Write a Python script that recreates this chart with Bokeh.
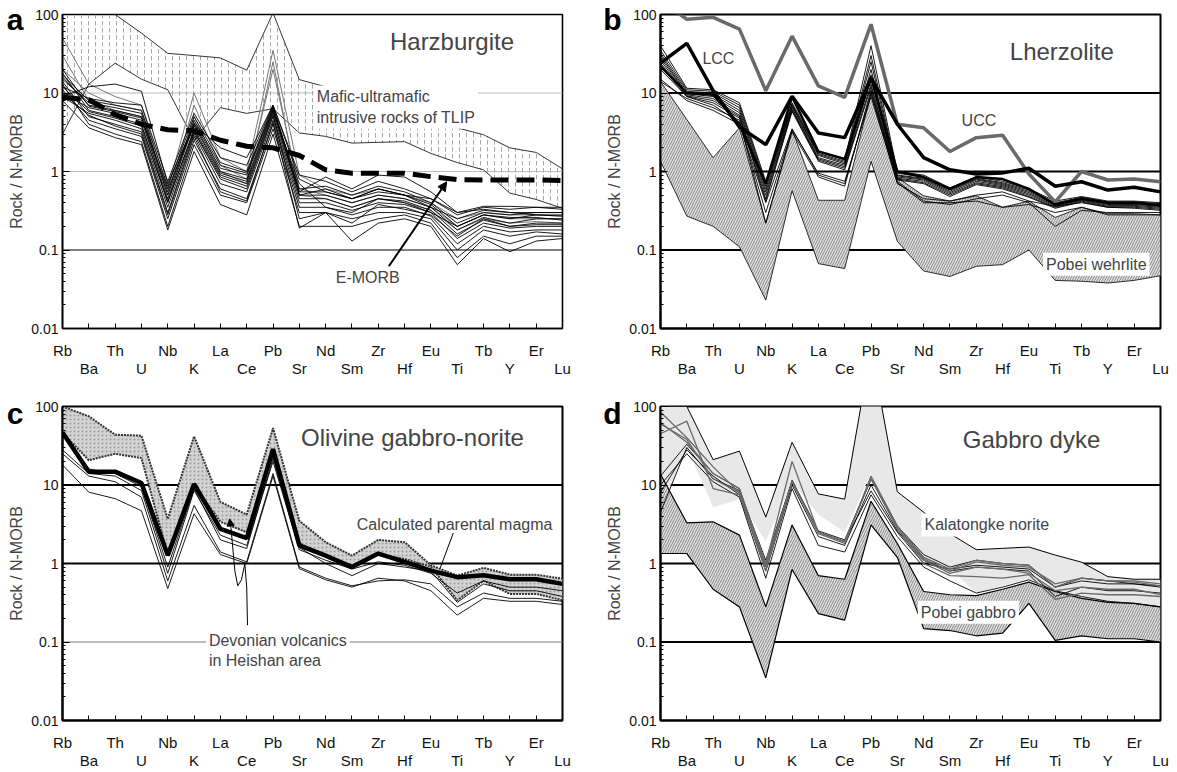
from bokeh.plotting import figure
from bokeh.models import (Range1d, FixedTicker, LinearAxis, LogAxis, Span, Label, Arrow,
                          NormalHead, CustomJSTickFormatter)
from bokeh.layouts import row, column
from bokeh.embed import file_html
from bokeh.resources import INLINE

FONT = "Liberation Sans"
ELEMENTS = ["Rb", "Ba", "Th", "U", "Nb", "K", "La", "Ce", "Pb", "Sr",
            "Nd", "Sm", "Zr", "Hf", "Eu", "Ti", "Tb", "Y", "Er", "Lu"]
X = list(range(len(ELEMENTS)))

# ---------------- panel a: Harzburgite ----------------
TLIP_UP = [100, 100, 100, 58, 32, 30, 28, 19.5, 105, 14.8, 12, 9, 7, 5.5, 4.5, 3.6, 2.94, 2.0, 1.75, 1.08]
TLIP_LO = [3.0, 13, 24, 15, 11, 2.5, 6.5, 5.5, 6.3, 3.1, 2.8, 2.3, 2.35, 2.4, 1.7, 1.3, 1.05, 0.53, 0.44, 0.34]
EMORB = [8.8, 8.2, 5.3, 4.0, 3.4, 3.3, 2.5, 2.1, 2.0, 1.6, 1.05, 0.95, 0.95, 0.95, 0.86, 0.79, 0.78, 0.78, 0.78, 0.77]
HARZ_BLACK = [
    [12, 8.5, 7.5, 7.0, 0.75, 5.5, 1.5, 1.2, 7.0, 0.9, 0.75, 0.55, 0.75, 0.6, 0.45, 0.28, 0.35, 0.33, 0.35, 0.35],
    [15, 7.5, 6.5, 5.5, 0.55, 4.5, 1.2, 0.95, 6.5, 0.6, 0.65, 0.5, 0.65, 0.55, 0.4, 0.22, 0.3, 0.28, 0.3, 0.3],
    [10, 6.5, 5.5, 4.5, 0.45, 4.0, 1.0, 0.8, 6.0, 0.55, 0.55, 0.45, 0.55, 0.5, 0.38, 0.2, 0.28, 0.25, 0.28, 0.27],
    [18, 6.0, 5.0, 4.0, 0.4, 3.5, 0.9, 0.7, 5.5, 0.5, 0.5, 0.4, 0.5, 0.45, 0.35, 0.18, 0.26, 0.22, 0.25, 0.25],
    [9, 5.5, 4.5, 3.5, 0.35, 3.2, 0.8, 0.6, 5.0, 0.45, 0.45, 0.35, 0.45, 0.42, 0.32, 0.16, 0.24, 0.2, 0.22, 0.22],
    [14, 5.0, 4.0, 3.2, 0.3, 3.0, 0.7, 0.55, 4.5, 0.4, 0.4, 0.32, 0.4, 0.38, 0.3, 0.14, 0.22, 0.19, 0.2, 0.2],
    [11, 4.5, 3.5, 2.8, 0.25, 2.5, 0.6, 0.45, 4.0, 0.35, 0.35, 0.28, 0.35, 0.35, 0.27, 0.12, 0.2, 0.17, 0.18, 0.18],
    [13, 4.0, 3.0, 2.4, 0.2, 2.2, 0.5, 0.4, 3.5, 0.3, 0.3, 0.25, 0.3, 0.3, 0.25, 0.1, 0.18, 0.15, 0.17, 0.16],
    [8, 3.6, 2.7, 2.2, 0.18, 1.8, 0.38, 0.28, 3.0, 0.2, 0.2, 0.2, 0.25, 0.28, 0.22, 0.08, 0.15, 0.12, 0.15, 0.15],
    [16, 7.0, 6.0, 5.0, 0.5, 4.2, 1.1, 0.9, 6.2, 0.5, 0.6, 0.45, 0.6, 0.5, 0.35, 0.25, 0.32, 0.3, 0.28, 0.28],
    [20, 6.8, 5.8, 4.8, 0.6, 3.8, 0.95, 0.75, 5.8, 0.7, 0.35, 0.3, 0.45, 0.4, 0.3, 0.2, 0.28, 0.26, 0.26, 0.24],
    [12, 5.8, 4.8, 3.8, 0.42, 3.3, 0.85, 0.65, 5.2, 0.25, 0.3, 0.22, 0.38, 0.33, 0.28, 0.15, 0.25, 0.2, 0.21, 0.21],
    [9, 12, 13, 10.5, 0.7, 4.0, 2.0, 1.5, 7.0, 0.8, 0.55, 0.45, 0.6, 0.5, 0.45, 0.3, 0.33, 0.3, 0.3, 0.3],
    [10, 5.2, 3.8, 3.0, 0.28, 2.8, 0.55, 0.42, 4.2, 0.19, 0.3, 0.13, 0.22, 0.25, 0.2, 0.065, 0.14, 0.095, 0.13, 0.14],
    [17, 8.0, 7.0, 6.0, 0.65, 5.0, 1.3, 1.0, 6.8, 0.55, 0.85, 0.6, 0.9, 0.85, 0.55, 0.3, 0.36, 0.36, 0.35, 0.33],
]
HARZ_GRAY = [
    [50, 13, 9, 7, 0.6, 10, 1.5, 1.0, 35, 0.9, 0.6, 0.5, 0.6, 0.5, 0.4, 0.25, 0.3, 0.28, 0.28, 0.27],
    [20, 10, 7, 6, 0.5, 7, 1.2, 0.8, 20, 0.6, 0.5, 0.4, 0.5, 0.45, 0.35, 0.2, 0.28, 0.25, 0.25, 0.25],
    [30, 8, 6, 5, 0.4, 5, 1.0, 0.7, 25, 0.5, 0.45, 0.35, 0.45, 0.4, 0.32, 0.18, 0.25, 0.22, 0.23, 0.22],
]

# ---------------- panel b: Lherzolite ----------------
PW_UP = [14, 4.6, 1.5, 3.6, 0.22, 3.4, 0.43, 0.43, 10, 0.84, 0.49, 0.42, 0.49, 0.35, 0.42, 0.26, 0.35, 0.29, 0.29, 0.28]
PW_LO = [1.35, 0.27, 0.2, 0.11, 0.023, 0.57, 0.067, 0.058, 1.35, 0.129, 0.054, 0.046, 0.062, 0.065, 0.1, 0.041, 0.04, 0.038, 0.041, 0.047]
LCC = [24, 43, 10.7, 3.7, 2.2, 9.1, 3.1, 2.7, 15.5, 4.0, 1.5, 1.05, 0.93, 0.96, 1.1, 0.65, 0.74, 0.58, 0.63, 0.55]
UCC = [150, 87, 92, 65, 10.7, 53, 12.3, 8.8, 75, 4.0, 3.6, 1.8, 2.7, 2.9, 0.93, 0.41, 1.0, 0.78, 0.8, 0.74]
LHZ_THICK = [22, 10, 9.5, 4.0, 0.7, 9.0, 1.8, 1.45, 16, 1.0, 0.85, 0.6, 0.85, 0.8, 0.6, 0.38, 0.45, 0.4, 0.4, 0.37]
LHZ_LINES = [
    [40, 11.5, 11, 7.5, 0.75, 7.5, 1.8, 1.4, 40, 1.0, 0.9, 0.62, 0.85, 0.75, 0.6, 0.42, 0.48, 0.42, 0.42, 0.4],
    [35, 11, 10.5, 7.0, 0.7, 7.2, 1.7, 1.35, 30, 0.95, 0.85, 0.6, 0.82, 0.72, 0.58, 0.4, 0.47, 0.41, 0.41, 0.39],
    [32, 10.5, 10, 6.5, 0.65, 7.0, 1.65, 1.3, 25, 0.9, 0.82, 0.58, 0.8, 0.7, 0.56, 0.39, 0.46, 0.4, 0.4, 0.38],
    [30, 10, 9.5, 6.0, 0.6, 6.8, 1.6, 1.25, 20, 0.88, 0.8, 0.56, 0.78, 0.68, 0.54, 0.38, 0.45, 0.39, 0.39, 0.37],
    [28, 9.8, 9, 5.6, 0.55, 6.5, 1.5, 1.2, 17, 0.85, 0.78, 0.54, 0.75, 0.66, 0.52, 0.37, 0.44, 0.38, 0.38, 0.36],
    [26, 9.5, 8.5, 5.2, 0.5, 6.2, 1.45, 1.15, 15, 0.82, 0.75, 0.52, 0.72, 0.64, 0.5, 0.36, 0.43, 0.37, 0.37, 0.35],
    [24, 9.2, 8, 5.0, 0.45, 6.0, 1.4, 1.1, 13, 0.8, 0.72, 0.5, 0.7, 0.62, 0.48, 0.35, 0.42, 0.36, 0.36, 0.34],
    [22, 9.0, 7.5, 4.8, 0.42, 5.8, 1.35, 1.05, 12, 0.78, 0.7, 0.48, 0.68, 0.6, 0.47, 0.34, 0.41, 0.35, 0.35, 0.33],
    [15, 8.0, 6.0, 4.0, 0.4, 3.5, 0.9, 0.7, 10, 0.7, 0.45, 0.42, 0.5, 0.55, 0.42, 0.36, 0.4, 0.35, 0.34, 0.32],
    [14, 8.5, 6.5, 4.5, 0.22, 3.2, 0.85, 0.65, 11, 0.75, 0.42, 0.38, 0.45, 0.5, 0.4, 0.2, 0.32, 0.3, 0.3, 0.3],
    [20, 9.0, 7.0, 4.2, 0.3, 3.4, 0.95, 0.75, 9, 0.72, 0.4, 0.4, 0.42, 0.35, 0.38, 0.3, 0.35, 0.28, 0.28, 0.28],
]

# ---------------- panel c: Olivine gabbro-norite ----------------
DV_UP = [100, 75, 43.7, 42.5, 3.7, 41.7, 6.1, 4.2, 53, 3.5, 1.87, 1.26, 2.0, 1.87, 0.95, 0.7, 0.88, 0.72, 0.72, 0.64]
DV_LO = [46, 20.7, 25, 22, 1.3, 10, 3.4, 2.5, 25.6, 1.8, 1.26, 0.94, 1.3, 1.14, 0.91, 0.34, 0.6, 0.41, 0.41, 0.34]
PARENT = [46.6, 14.8, 14.8, 10.6, 1.27, 10.3, 2.76, 2.1, 28.7, 1.7, 1.26, 0.9, 1.34, 1.05, 0.81, 0.67, 0.71, 0.63, 0.63, 0.55]
OGN_LINES = [
    [45, 16, 14, 9.5, 0.9, 9, 2.0, 1.55, 22, 1.6, 1.0, 0.7, 1.0, 0.9, 0.8, 0.32, 0.55, 0.45, 0.45, 0.38],
    [28, 14, 13, 8.5, 0.75, 8.5, 2.3, 1.7, 20, 1.5, 1.1, 0.85, 1.05, 0.95, 0.75, 0.42, 0.6, 0.5, 0.5, 0.45],
    [25, 13, 11, 7, 0.6, 5.5, 1.4, 1.05, 14, 0.9, 0.65, 0.52, 0.6, 0.62, 0.55, 0.28, 0.42, 0.36, 0.36, 0.33],
    [18, 8.1, 6.7, 4.7, 0.48, 4.3, 1.3, 1.0, 13, 0.86, 0.62, 0.5, 0.65, 0.6, 0.45, 0.22, 0.36, 0.33, 0.33, 0.3],
]

# ---------------- panel d: Gabbro dyke ----------------
KN_UP = [100, 100, 21, 27, 3.9, 35, 7.7, 6.6, 550, 8.2, 4.5, 2.4, 1.5, 1.56, 1.62, 1.28, 1.04, 0.68, 0.63, 0.63]
KN_LO = [5, 30, 5.2, 6.6, 1.9, 11, 4.2, 2.5, 14, 2.6, 1.2, 0.85, 0.42, 0.52, 0.64, 0.43, 0.36, 0.32, 0.31, 0.28]
PG_UP = [13.7, 3.3, 3.4, 2.3, 0.28, 3.1, 0.7, 0.63, 6.2, 1.8, 0.44, 0.4, 0.39, 0.47, 0.58, 0.44, 0.36, 0.32, 0.31, 0.28]
PG_LO = [1.34, 1.34, 0.47, 0.28, 0.035, 0.84, 0.23, 0.19, 3.1, 1.2, 0.148, 0.14, 0.12, 0.13, 0.31, 0.105, 0.12, 0.11, 0.11, 0.1]
GD_GRAY = [
    [62, 35, 14, 9, 1.0, 20, 2.5, 1.9, 12, 3.0, 1.2, 0.85, 1.1, 1.0, 0.95, 0.5, 0.65, 0.6, 0.6, 0.55],
    [85, 40, 17, 8, 0.8, 11, 2.4, 1.8, 13, 3.0, 1.15, 0.8, 1.05, 0.95, 0.9, 0.55, 0.65, 0.6, 0.58, 0.52],
    [45, 65, 9, 7.5, 0.9, 11, 2.5, 1.9, 12, 2.8, 1.1, 0.75, 0.9, 0.85, 0.75, 0.45, 0.5, 0.47, 0.47, 0.4],
    [60, 38, 12, 8, 1.0, 11, 2.5, 1.9, 12, 2.8, 1.0, 0.7, 0.68, 0.65, 0.72, 0.35, 0.42, 0.4, 0.4, 0.38],
]
GD_BLACK = [
    [4.5, 30, 12, 8.5, 1.1, 11.2, 2.5, 1.9, 8.4, 2.5, 1.0, 0.85, 0.95, 0.9, 0.85, 0.5, 0.6, 0.55, 0.55, 0.5],
    [13, 33, 14, 9, 0.9, 11.5, 2.6, 2.0, 12, 3.0, 1.3, 0.9, 1.1, 1.0, 0.95, 0.5, 0.65, 0.6, 0.55, 0.52],
    [10, 25, 11, 7, 0.65, 9, 1.7, 1.4, 7.5, 2.2, 0.9, 0.6, 0.42, 0.5, 0.62, 0.45, 0.38, 0.33, 0.31, 0.28],
    [8, 28, 13, 7.5, 0.8, 10, 2.2, 1.7, 10, 2.6, 1.1, 0.8, 0.9, 0.85, 0.8, 0.38, 0.5, 0.45, 0.45, 0.42],
]


def make_panel(letter, bl, br, bt, bb, fh, outline_w):
    p = figure(frame_width=500, frame_height=fh,
               min_border_left=bl, min_border_right=br,
               min_border_top=bt, min_border_bottom=bb,
               x_range=Range1d(0, 19), y_range=Range1d(0.01, 100),
               y_axis_type="log", toolbar_location=None, output_backend="svg")
    p.xgrid.visible = False
    p.ygrid.visible = False
    p.outline_line_color = "black"
    p.outline_line_width = outline_w
    p.background_fill_color = "white"
    p.border_fill_color = "white"

    ya = p.yaxis[0]
    ya.formatter = CustomJSTickFormatter(code="return String(Number(tick.toPrecision(3)));")
    ya.major_tick_in = 7
    ya.major_tick_out = 0
    ya.minor_tick_in = 3
    ya.minor_tick_out = 0
    ya.axis_line_width = outline_w
    ya.major_label_text_font = FONT
    ya.major_label_text_font_size = "14px"
    ya.major_label_text_color = "#111111"
    ya.major_label_standoff = 4
    ya.axis_label = "Rock / N-MORB"
    ya.axis_label_text_font = FONT
    ya.axis_label_text_font_style = "normal"
    ya.axis_label_text_font_size = "16px"
    ya.axis_label_standoff = 3

    ax1 = p.xaxis[0]
    ax1.ticker = FixedTicker(ticks=X)
    ax1.major_label_overrides = {i: (ELEMENTS[i] if i % 2 == 0 else "") for i in X}
    ax1.major_tick_in = 5
    ax1.major_tick_out = 0
    ax1.minor_tick_line_color = None
    ax1.axis_line_width = outline_w
    ax1.major_label_standoff = 13
    ax1.major_label_text_font = FONT
    ax1.major_label_text_font_size = "15px"
    ax1.major_label_text_color = "#111111"

    odd = [i for i in X if i % 2 == 1]
    ax2 = LinearAxis(ticker=FixedTicker(ticks=odd),
                     major_label_overrides={i: ELEMENTS[i] for i in odd})
    ax2.axis_line_color = None
    ax2.major_tick_line_color = None
    ax2.minor_tick_line_color = None
    ax2.major_label_standoff = -8
    ax2.major_label_text_font = FONT
    ax2.major_label_text_font_size = "15px"
    ax2.major_label_text_color = "#111111"
    p.add_layout(ax2, "below")

    # panel letter, written as the single tick label of an outer left axis
    la = LogAxis(ticker=FixedTicker(ticks=[100]), major_label_overrides={100: letter})
    la.axis_line_color = None
    la.major_tick_line_color = None
    la.minor_tick_line_color = None
    la.major_label_standoff = -24
    la.major_label_text_font = FONT
    la.major_label_text_font_style = "bold"
    la.major_label_text_font_size = "30px"
    la.major_label_text_color = "black"
    p.add_layout(la, "left")
    return p


def hline(p, v, color, w):
    p.add_layout(Span(location=v, dimension="width", line_color=color,
                      line_width=w, level="underlay"))


def title(p, x, y, t):
    p.add_layout(Label(x=x, y=y, text=t, text_font=FONT, text_font_size="24px",
                       text_align="center", text_baseline="middle"))


def note(p, x, y, t, align="center", bg=False):
    kw = dict(background_fill_color="white", padding=3) if bg else {}
    p.add_layout(Label(x=x, y=y, text=t, text_font=FONT, text_font_size="16px",
                       text_align=align, text_baseline="middle", **kw))


# ---------- a ----------
pa = make_panel("a", 62, 38, 14, 65, 314, 1.6)
hline(pa, 10, "#bbbbbb", 1)
hline(pa, 1, "#bbbbbb", 1)
hline(pa, 0.1, "black", 1)
pa.varea(x=X, y1=TLIP_LO, y2=TLIP_UP, fill_color="white", fill_alpha=0,
         hatch_pattern=":", hatch_color="#a8a8a8", hatch_scale=7, hatch_weight=1)
pa.line(X, TLIP_UP, line_color="black", line_width=0.8)
pa.line(X, TLIP_LO, line_color="black", line_width=0.8)
pa.multi_line([X] * len(HARZ_GRAY), HARZ_GRAY, line_color="#777777", line_width=1)
pa.multi_line([X] * len(HARZ_BLACK), HARZ_BLACK, line_color="black", line_width=0.9)
pa.line(X, EMORB, line_color="black", line_width=5, line_dash="18 8")
title(pa, 14.8, 45, "Harzburgite")
note(pa, 9.55, 6.6, "Mafic-ultramafic\nintrusive rocks of TLIP", align="left", bg=True)
note(pa, 11.6, 0.044, "E-MORB")
pa.add_layout(Arrow(end=NormalHead(size=9, fill_color="black", line_color="black"),
                    x_start=12.4, y_start=0.062, x_end=14.6, y_end=0.74,
                    line_color="black", line_width=2))

# ---------- b ----------
pb = make_panel("b", 60, 15, 14, 65, 314, 2)
hline(pb, 10, "black", 2)
hline(pb, 1, "black", 2)
hline(pb, 0.1, "black", 2)
pb.varea(x=X, y1=PW_LO, y2=PW_UP, fill_color="#e2e2e2",
         hatch_pattern="/", hatch_color="#6e6e6e", hatch_scale=5, hatch_weight=0.8)
pb.line(X, PW_UP, line_color="black", line_width=0.8)
pb.line(X, PW_LO, line_color="black", line_width=0.8)
pb.multi_line([X] * len(LHZ_LINES), LHZ_LINES, line_color="black", line_width=0.9)
pb.line(X, LHZ_THICK, line_color="black", line_width=2.5)
pb.line(X, UCC, line_color="#6a6a6a", line_width=3.5)
pb.line(X, LCC, line_color="black", line_width=3.5)
title(pb, 15.25, 33.6, "Lherzolite")
note(pb, 2.2, 27.6, "LCC")
note(pb, 12.1, 4.4, "UCC")
note(pb, 16.56, 0.066, "Pobei wehrlite", bg=True)

# ---------- c ----------
pc = make_panel("c", 62, 38, 13, 50, 314, 2)
hline(pc, 10, "black", 2)
hline(pc, 1, "black", 2)
hline(pc, 0.1, "#777777", 1)
pc.varea(x=X, y1=DV_LO, y2=DV_UP, fill_color="#d3d3d3",
         hatch_pattern=".", hatch_color="#9a9a9a", hatch_scale=4, hatch_weight=1)
pc.line(X, DV_UP, line_color="#333333", line_width=2, line_dash="2 1")
pc.line(X, DV_LO, line_color="#333333", line_width=2, line_dash="2 1")
pc.multi_line([X] * len(OGN_LINES), OGN_LINES, line_color="black", line_width=0.9)
pc.line(X, PARENT, line_color="black", line_width=4.5)
title(pc, 13.3, 40, "Olivine gabbro-norite")
note(pc, 14.9, 3.1, "Calculated parental magma")
pc.line([14.85, 14.35], [2.45, 0.87], line_color="black", line_width=1)
pc.line([7.03, 7.0, 6.93, 6.8, 6.66, 6.55, 6.4],
        [0.164, 0.5, 0.99, 0.62, 0.52, 0.8, 2.9], line_color="black", line_width=1)
pc.add_layout(Arrow(end=NormalHead(size=7, fill_color="black", line_color="black"),
                    x_start=6.4, y_start=2.9, x_end=6.35, y_end=3.7,
                    line_color="black", line_width=1))
note(pc, 5.45, 0.078, "Devonian volcanics\nin Heishan area", align="left", bg=True)

# ---------- d ----------
pd_ = make_panel("d", 60, 15, 13, 50, 314, 2)
hline(pd_, 10, "black", 2)
hline(pd_, 1, "black", 2)
hline(pd_, 0.1, "black", 2)
pd_.varea(x=X, y1=KN_LO, y2=KN_UP, fill_color="#e8e8e8")
pd_.line(X, KN_UP, line_color="black", line_width=1)
pd_.varea(x=X, y1=PG_LO, y2=PG_UP, fill_color="#e2e2e2",
          hatch_pattern="/", hatch_color="#6e6e6e", hatch_scale=5, hatch_weight=0.8)
pd_.line(X, PG_UP, line_color="black", line_width=1.2)
pd_.line(X, PG_LO, line_color="black", line_width=1.2)
pd_.multi_line([X] * len(GD_BLACK), GD_BLACK, line_color="black", line_width=0.9)
pd_.multi_line([X] * len(GD_GRAY), GD_GRAY, line_color="#6a6a6a", line_width=1.3)
title(pd_, 14.1, 38, "Gabbro dyke")
note(pd_, 12.4, 3.1, "Kalatongke norite", bg=True)
note(pd_, 11.7, 0.24, "Pobei gabbro", bg=True)

layout = column(row(pa, pb), row(pc, pd_))
open("out.html", "w").write(file_html(layout, INLINE))
